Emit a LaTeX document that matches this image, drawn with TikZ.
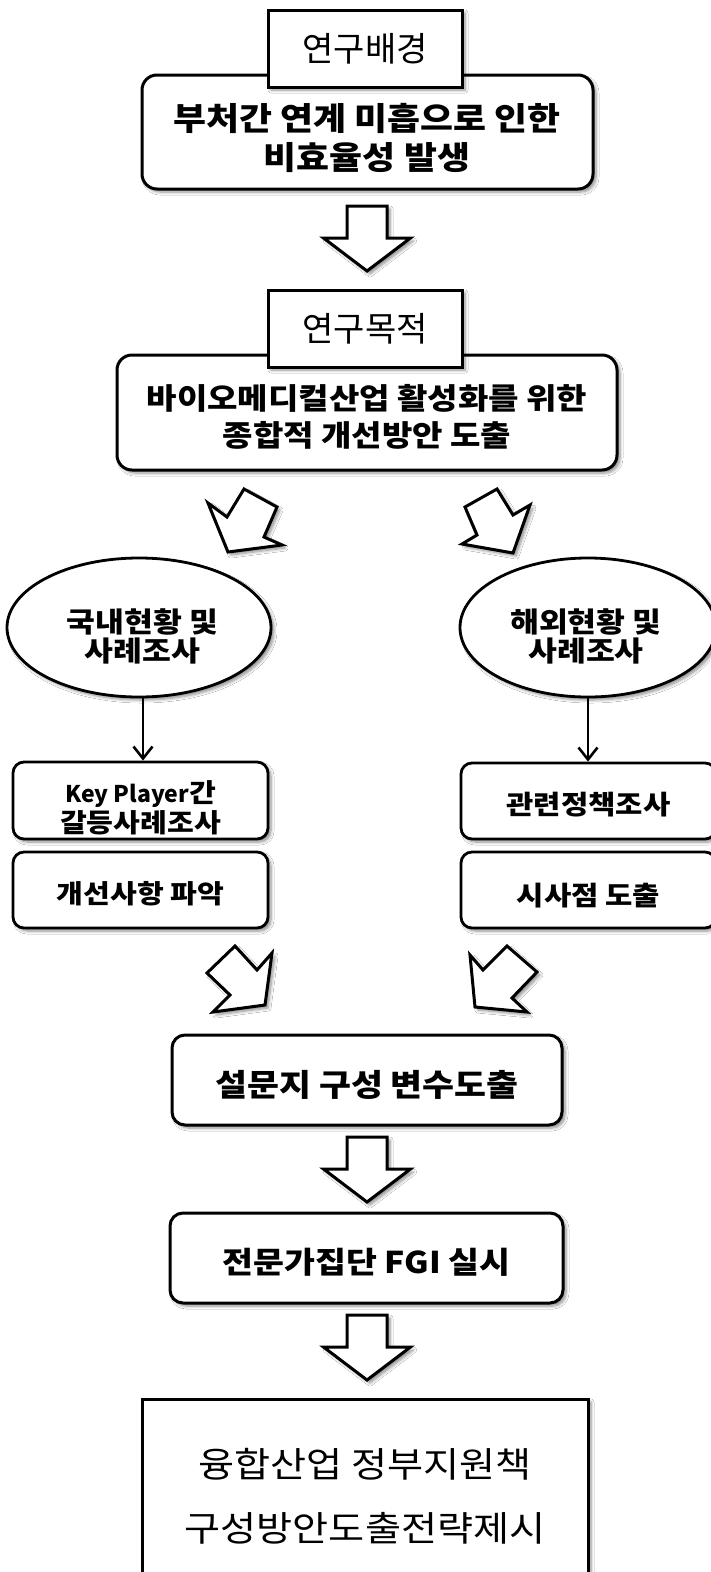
\documentclass[tikz,border=0pt]{standalone}
\usepackage{fontspec}
\newfontfamily\kr{Noto Sans CJK KR}
\newfontfamily\krw{Noto Sans CJK KR}[FakeStretch=1.12]
\usetikzlibrary{arrows.meta,shapes.geometric,shadows.blur}

\tikzset{
  x=1pt, y=-1pt,
  shade/.style={blur shadow={shadow xshift=3pt, shadow yshift=-3pt,
      shadow blur radius=3pt, shadow blur steps=6, shadow opacity=45}},
  titlebox/.style={draw, line width=3pt, fill=white, shade, inner sep=0pt,
      font=\kr\fontsize{34}{40}\selectfont},
  roundbox/.style={draw, line width=3pt, fill=white, rounded corners=15pt, shade, inner sep=0pt},
  smallbox/.style={draw, line width=2.8pt, fill=white, rounded corners=11pt, shade, inner sep=0pt},
  midbox/.style={draw, line width=3pt, fill=white, rounded corners=13pt, shade, inner sep=0pt},
  plainbox/.style={draw, line width=3pt, fill=white, shade, inner sep=0pt},
  oval/.style={ellipse, draw, line width=2.8pt, fill=white, shade, inner sep=0pt},
  bigarrow/.style={draw, line width=3pt, fill=white, line join=miter, shade},
  thinarrow/.style={line width=2.6pt, -{Straight Barb[length=12pt,width=19pt,line width=2.6pt]}},
  txt/.style={align=center, inner sep=0pt},
  blockdown/.pic={
    \draw[bigarrow] (-20,0) -- (20,0) -- (20,32) -- (43.5,32) -- (0,65)
      -- (-43.5,32) -- (-20,32) -- cycle;
  }
}

\begin{document}
\begin{tikzpicture}
\useasboundingbox (0,0) rectangle (710,1572);
\fill[white] (0,0) rectangle (710,1572);

% research background
\node[roundbox, minimum width=451pt, minimum height=114pt] (bgbox) at (367.5,132) {};
\node[txt, font=\krw\bfseries\fontsize{32}{39}\selectfont] (bgtext) at (367,138)
  {부처간 연계 미흡으로 인한\\비효율성 발생};
\node[titlebox, minimum width=194pt, minimum height=77pt] (bgtitle) at (365,48.5) {연구배경};

\pic at (367,206) {blockdown};

% research purpose
\node[roundbox, minimum width=500pt, minimum height=115pt] (aimbox) at (367,412.5) {};
\node[txt, font=\krw\bfseries\fontsize{29.5}{37}\selectfont] (aimtext) at (367,417)
  {바이오메디컬산업 활성화를 위한\\종합적 개선방안 도출};
\node[titlebox, minimum width=194pt, minimum height=77pt] (aimtitle) at (365,328.5) {연구목적};

% split arrows
\draw[bigarrow] (228,552) -- (208,503) -- (227,517) -- (244,489) -- (277,507)
  -- (264,537) -- (282,545) -- cycle;
\draw[bigarrow] (513,553) -- (462,544) -- (477,535) -- (465,507) -- (497,489)
  -- (513,515) -- (530,505) -- cycle;

% domestic branch
\node[oval, minimum width=264pt, minimum height=139pt] (dom) at (139,627.5) {};
\node[txt, font=\krw\bfseries\fontsize{28}{29}\selectfont] (domtext) at (142.5,636)
  {국내현황 및\\사례조사};
\node[smallbox, minimum width=255pt, minimum height=77pt] (kp) at (140.5,800.5) {};
\node[txt, font=\krw\bfseries\fontsize{26}{29.5}\selectfont] (kptext) at (140.5,808)
  {{\kr\bfseries\fontsize{23}{29.5}\selectfont Key Player}간\\갈등사례조사};
\node[smallbox, minimum width=255pt, minimum height=76pt] (imp) at (140.5,890) {};
\node[txt, font=\krw\bfseries\fontsize{26}{30}\selectfont] (imptext) at (140.5,893.5)
  {개선사항 파악};
\draw[thinarrow] (dom.south -| 143,0) -- (kp.north -| 143,0);

% overseas branch
\node[oval, minimum width=256pt, minimum height=139pt] (abr) at (588,627.5) {};
\node[txt, font=\krw\bfseries\fontsize{28}{29}\selectfont] (abrtext) at (586,636)
  {해외현황 및\\사례조사};
\node[smallbox, minimum width=255pt, minimum height=76pt] (pol) at (588.5,801) {};
\node[txt, font=\krw\bfseries\fontsize{26.5}{30}\selectfont] (poltext) at (588.5,805)
  {관련정책조사};
\node[smallbox, minimum width=255pt, minimum height=76pt] (ins) at (588.5,890) {};
\node[txt, font=\krw\bfseries\fontsize{26.5}{30}\selectfont] (instext) at (588.5,896)
  {시사점 도출};
\draw[thinarrow] (abr.south -| 588,0) -- (pol.north -| 588,0);

% merge arrows
\draw[bigarrow] (265,1005) -- (272,953) -- (257,970) -- (235,946) -- (207,973)
  -- (230,995) -- (213,1012) -- cycle;
\draw[bigarrow] (475,1007) -- (470,955) -- (483,970) -- (507,946) -- (537,972)
  -- (512,998) -- (527,1012) -- cycle;

% survey and FGI
\node[midbox, minimum width=390pt, minimum height=90pt] (svy) at (367,1080) {};
\node[txt, font=\krw\bfseries\fontsize{31}{36}\selectfont] (svytext) at (367,1085)
  {설문지 구성 변수도출};
\pic at (367,1137) {blockdown};
\node[midbox, minimum width=393pt, minimum height=90pt] (fgi) at (366.5,1258) {};
\node[txt, font=\krw\bfseries\fontsize{30}{36}\selectfont] (fgitext) at (366.5,1262)
  {전문가집단 FGI 실시};
\pic at (367,1315) {blockdown};

% final result
\node[plainbox, minimum width=446pt, minimum height=201pt] (res) at (365,1499.5) {};
\node[txt, font=\krw\fontsize{35}{64}\selectfont] (restext) at (365,1496)
  {융합산업 정부지원책\\구성방안도출전략제시};
\end{tikzpicture}
\end{document}
